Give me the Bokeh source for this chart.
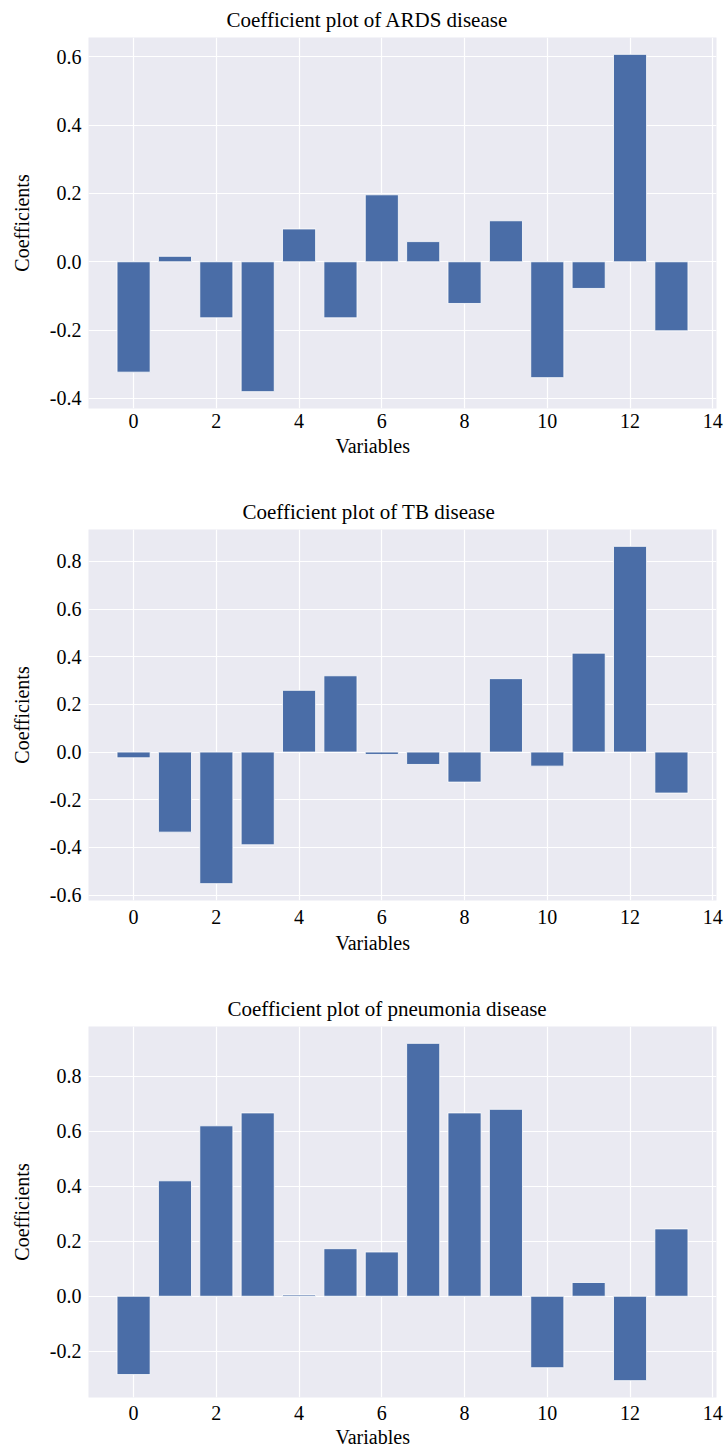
from bokeh.plotting import figure
from bokeh.layouts import column
from bokeh.models import FixedTicker, PrintfTickFormatter, Range1d, ColumnDataSource, Title
from bokeh.embed import file_html
from bokeh.resources import INLINE

# ---- data ----
variables = list(range(14))
ards = [-0.323, 0.016, -0.164, -0.380, 0.096, -0.164, 0.196, 0.059, -0.122, 0.120, -0.339, -0.078, 0.607, -0.202]
tb = [-0.024, -0.336, -0.552, -0.389, 0.259, 0.320, -0.010, -0.052, -0.126, 0.308, -0.059, 0.415, 0.863, -0.172]
pneumonia = [-0.285, 0.420, 0.620, 0.667, 0.005, 0.173, 0.161, 0.920, 0.667, 0.680, -0.260, 0.050, -0.307, 0.245]

x_ticks = [0, 2, 4, 6, 8, 10, 12, 14]
ards_y_ticks = [-0.4, -0.2, 0.0, 0.2, 0.4, 0.6]
tb_y_ticks = [-0.6, -0.4, -0.2, 0.0, 0.2, 0.4, 0.6, 0.8]
pneumonia_y_ticks = [-0.2, 0.0, 0.2, 0.4, 0.6, 0.8]

titles = ["Coefficient plot of ARDS disease",
          "Coefficient plot of TB disease",
          "Coefficient plot of pneumonia disease"]
x_label = "Variables"
y_label = "Coefficients"

FONT = "Liberation Serif"
BAR = "#4A6DA7"
BG = "#EAEAF2"
BAR_W = 0.8


def make_fig(title, values, yticks, top_b, bottom_b, title_offset, title_standoff,
             tick_standoff, xlab_standoff):
    lo = min(min(values), 0)
    hi = max(max(values), 0)
    pad = (hi - lo) * 0.05
    xlo, xhi = -BAR_W / 2, len(values) - 1 + BAR_W / 2
    xpad = (xhi - xlo) * 0.05
    p = figure(frame_width=628, frame_height=371,
               x_range=Range1d(xlo - xpad, xhi + xpad),
               y_range=Range1d(lo - pad, hi + pad),
               output_backend="svg", toolbar_location=None,
               min_border_left=88, min_border_right=8,
               min_border_top=top_b, min_border_bottom=bottom_b,
               background_fill_color=BG, border_fill_color="white",
               outline_line_color=None)
    src = ColumnDataSource(dict(x=variables, top=values))
    p.vbar(x="x", top="top", bottom=0, width=BAR_W, source=src,
           fill_color=BAR, line_color="white", line_width=0.8)

    p.xaxis.ticker = FixedTicker(ticks=x_ticks)
    p.yaxis.ticker = FixedTicker(ticks=yticks)
    p.yaxis.formatter = PrintfTickFormatter(format="%.1f")
    p.axis.axis_line_color = None
    p.axis.major_tick_line_color = None
    p.axis.minor_tick_line_color = None
    p.axis.major_tick_out = 0
    p.axis.major_tick_in = 0
    p.axis.minor_tick_out = 0
    p.axis.major_label_text_font = FONT
    p.axis.major_label_text_font_style = "normal"
    p.axis.major_label_text_font_size = "20px"
    p.axis.major_label_text_color = "black"
    p.axis.axis_label_text_font = FONT
    p.axis.axis_label_text_font_size = "20px"
    p.axis.axis_label_text_font_style = "normal"
    p.axis.axis_label_text_color = "black"
    p.yaxis.axis_label = y_label
    p.xaxis.major_label_standoff = tick_standoff
    p.yaxis.major_label_standoff = 7
    p.yaxis.axis_label_standoff = 14

    # x-axis label, placed as in the reference (left of the frame centre)
    p.add_layout(Title(text=x_label, align="left", offset=247,
                       standoff=xlab_standoff, text_font=FONT,
                       text_font_size="20px", text_font_style="normal",
                       text_color="black"), "below")

    p.xgrid.grid_line_color = "white"
    p.ygrid.grid_line_color = "white"
    p.xgrid.grid_line_width = 1.2
    p.ygrid.grid_line_width = 1.2

    p.title.text = title
    p.title.align = "left"
    p.title.offset = title_offset
    p.title.text_font = FONT
    p.title.text_font_size = "21px"
    p.title.text_font_style = "normal"
    p.title.text_color = "black"
    p.title.standoff = title_standoff
    return p


p1 = make_fig(titles[0], ards, ards_y_ticks, 36, 83, 138, 11, 5, 4)
p2 = make_fig(titles[1], tb, tb_y_ticks, 38, 87, 154, 11, 9, 6)
p3 = make_fig(titles[2], pneumonia, pneumonia_y_ticks, 39, 56, 139, 11, 8, 2)

layout = column(p1, p2, p3, spacing=0)
open("out.html", "w").write(file_html(layout, INLINE))
